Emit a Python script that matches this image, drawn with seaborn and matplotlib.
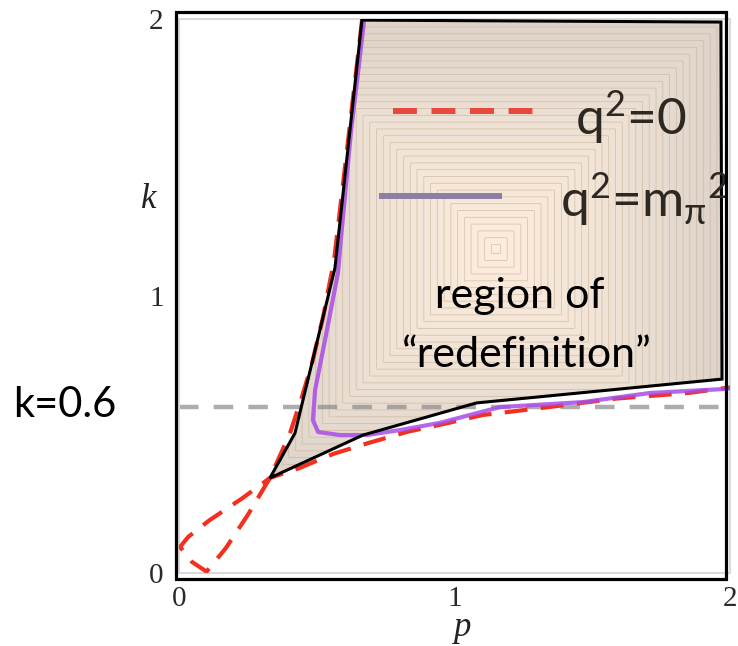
import numpy as np
import matplotlib
matplotlib.use("Agg")
import matplotlib.pyplot as plt
import seaborn as sns
from matplotlib.patches import Rectangle
from matplotlib.lines import Line2D
from matplotlib.colors import LinearSegmentedColormap

# ---------------- data ----------------
k_ref = 0.6

# region of "redefinition" (polygon vertices, p / k)
poly_p = [0.664, 1.967, 1.971, 1.080, 0.668, 0.330, 0.421, 0.566]
poly_k = [1.996, 1.989, 0.700, 0.614, 0.498, 0.343, 0.505, 1.101]

# q^2 = 0 curve (red dashed)
q0_p = [0.665, 0.630, 0.563, 0.523, 0.483, 0.446, 0.403, 0.330,
        0.250, 0.170, 0.100, 0.047, 0.004, 0.033, 0.110, 0.230, 0.330,
        0.440, 0.560, 0.690, 0.830, 0.970, 1.100, 1.350, 1.590, 1.850, 2.000]
q0_k = [2.000, 1.700, 1.130, 0.924, 0.758, 0.635, 0.505, 0.343,
        0.210, 0.090, 0.005, 0.040, 0.094, 0.130, 0.190, 0.270, 0.343,
        0.380, 0.430, 0.470, 0.510, 0.540, 0.570, 0.600, 0.630, 0.650, 0.670]

# q^2 = m_pi^2 curve (purple)
qpi_p = [0.672, 0.648, 0.625, 0.590, 0.577, 0.530, 0.494, 0.486, 0.505,
         0.584, 0.682, 0.802, 0.947, 1.165, 1.466, 1.710, 1.975, 2.000]
qpi_k = [1.996, 1.790, 1.600, 1.230, 1.083, 0.841, 0.661, 0.552, 0.509,
         0.498, 0.498, 0.516, 0.542, 0.599, 0.617, 0.650, 0.664, 0.667]

x_ticks = [0, 1, 2]
y_ticks = [0, 1, 2]
tick_labels = ["0", "1", "2"]

# ---------------- figure ----------------
sns.set_theme(style="white")
plt.rcParams["font.family"] = ["Lato", "DejaVu Sans"]
plt.rcParams["mathtext.fontset"] = "custom"
plt.rcParams["mathtext.rm"] = "Lato"
plt.rcParams["mathtext.it"] = "Lato"
plt.rcParams["mathtext.bf"] = "Lato:bold"

W, H = 738, 646
fig = plt.figure(figsize=(W / 100, H / 100), dpi=100)
fig.patch.set_facecolor("white")

def fx(px):
    return px / W

def fy(py):
    return 1 - py / H

ax = fig.add_axes([fx(179), fy(573), fx(730) - fx(179), fy(19) - fy(573)])
ax.set_facecolor("white")
ax.set_xlim(0, 2)
ax.set_ylim(0, 2)

# polygon region with a square gradient fill
poly = ax.fill(poly_p, poly_k, facecolor="none", edgecolor="black",
               linewidth=2.2, zorder=6, joinstyle="miter")[0]

cx = (min(poly_p) + max(poly_p)) / 2
cy = (min(poly_k) + max(poly_k)) / 2
gx = np.linspace(0, 2, 600)
gy = np.linspace(0, 2, 600)
GX, GY = np.meshgrid(gx, gy)
half = max(max(poly_p) - cx, max(poly_k) - cy)
F = np.maximum(np.abs(GX - cx), np.abs(GY - cy)) / half
cmap = LinearSegmentedColormap.from_list("fill", ["#fdeddd", "#f0e3d6", "#ddd3ca"])
im = ax.imshow(F, extent=(0, 2, 0, 2), origin="lower", cmap=cmap,
               vmin=0, vmax=1, aspect="auto", zorder=1, interpolation="bilinear")
clip_patch = plt.Polygon(np.column_stack([poly_p, poly_k]), closed=True,
                         transform=ax.transData, facecolor="none", edgecolor="none")
ax.add_patch(clip_patch)
im.set_clip_path(clip_patch)
cs = ax.contour(GX, GY, F, levels=np.linspace(0.02, 1.0, 34),
                colors="#cdb59c", linewidths=0.6, alpha=0.7, zorder=1.5)
cs.set_clip_path(clip_patch)

# reference line k = 0.6
ax.axhline(k_ref, color="#8a8a8a", alpha=0.7, linewidth=3.2,
           dashes=(4.4, 3.4), zorder=2)

# curves
sns.lineplot(x=q0_p, y=q0_k, sort=False, estimator=None, ax=ax,
             color="#f3301f", linewidth=3.0, zorder=3)
ax.lines[-1].set_dashes((5.5, 3.2))
sns.lineplot(x=qpi_p, y=qpi_k, sort=False, estimator=None, ax=ax,
             color="#a84ce6", alpha=0.85, linewidth=3.0, zorder=4)

# axes styling
for s in ax.spines.values():
    s.set_color("#dadada")
    s.set_linewidth(1.5)
ax.set_xticks(x_ticks)
ax.set_yticks(y_ticks)
ax.set_xticklabels(tick_labels, family="Liberation Serif", fontsize=21, color="#2a2a2a")
ax.set_yticklabels(tick_labels, family="Liberation Serif", fontsize=21, color="#2a2a2a")
ax.tick_params(axis="both", length=0)
ax.tick_params(axis="x", pad=9)
ax.tick_params(axis="y", pad=11)
ax.set_xlabel("")
ax.set_ylabel("")

# outer black frame
fig.patches.append(Rectangle((fx(176), fy(579)), fx(726) - fx(176), fy(12) - fy(579),
                             transform=fig.transFigure, facecolor="none",
                             edgecolor="black", linewidth=2.3, zorder=10))

# axis labels
fig.text(fx(149), fy(200), "k", family="Liberation Serif", style="italic",
         fontsize=25, ha="center", va="center", color="#222222")
fig.text(fx(462), fy(628), "p", family="Liberation Serif", style="italic",
         fontsize=25, ha="center", va="center", color="#222222")

# legend samples
red_leg = Line2D([fx(393), fx(537)], [fy(111), fy(111)], transform=fig.transFigure,
                 color="#e8483d", linewidth=4.3,
                 solid_capstyle="butt", dash_capstyle="butt", zorder=8)
red_leg.set_dashes((4.0, 2.45))
fig.lines.append(red_leg)
fig.lines.append(Line2D([fx(379), fx(502)], [fy(196), fy(196)], transform=fig.transFigure,
                        color="#8e7ea4", linewidth=4.3, solid_capstyle="butt", zorder=8))

txt_col = "#2d2822"
fig.text(fx(575), fy(135), r"q$^2$=0", fontsize=37, color=txt_col,
         ha="left", va="baseline", zorder=9)
fig.text(fx(560), fy(217), r"q$^2$=m$_\pi{}^2$", fontsize=37, color=txt_col,
         ha="left", va="baseline", zorder=9)

fig.text(fx(520), fy(308), "region of", fontsize=31, color="black",
         ha="center", va="baseline", zorder=9)
fig.text(fx(527), fy(367), "\u201credefinition\u201d", fontsize=31, color="black",
         ha="center", va="baseline", zorder=9)

fig.text(fx(13), fy(417), "k=0.6", fontsize=30, color="black",
         ha="left", va="baseline")

fig.savefig("out.png", dpi=100)
